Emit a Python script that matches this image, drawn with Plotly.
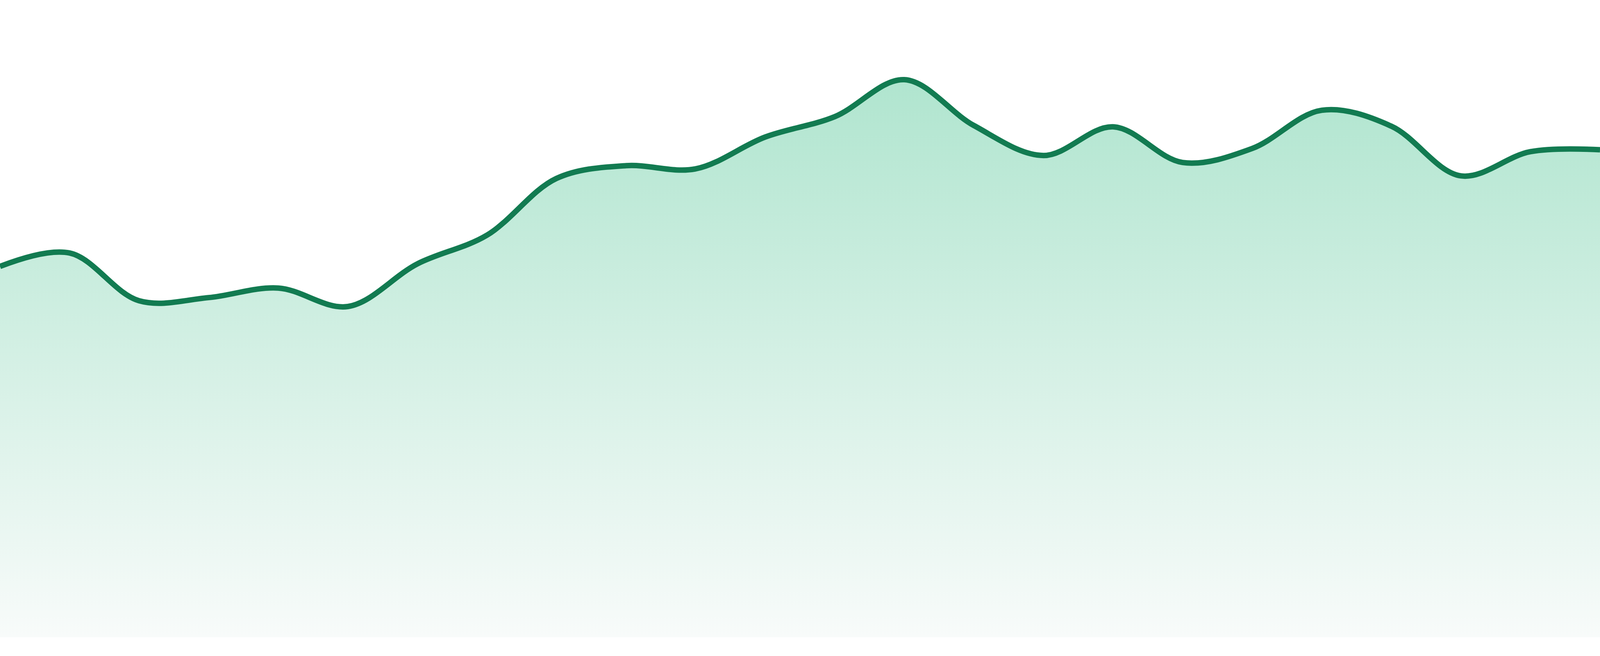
import plotly.graph_objects as go

# valeurs (24 points, echelle 0-100)
days = list(range(24))
values = [58.2, 60.3, 52.8, 53.3, 54.8, 51.9, 58.6, 63.1, 72.0, 74.0, 73.5, 78.5,
          81.7, 87.5, 80.3, 75.6, 80.1, 74.5, 76.7, 82.7, 80.2, 72.4, 76.2, 76.5]

line_color = "#127b51"
fill_bottom = "#f8fbfa"
fill_top = "#b0e5cf"

fig = go.Figure()
fig.add_trace(go.Scatter(
    x=days, y=values,
    mode="lines",
    line=dict(color=line_color, width=14, shape="spline", smoothing=1.0),
    fill="tozeroy",
    fillgradient=dict(type="vertical", start=0, stop=max(values),
                      colorscale=[[0, fill_bottom], [1, fill_top]]),
    hoverinfo="skip",
))

fig.update_layout(
    width=4800, height=1680,
    margin=dict(l=0, r=0, t=0, b=0, pad=0),
    paper_bgcolor="white", plot_bgcolor="white",
    showlegend=False,
    hovermode=False,
    xaxis=dict(visible=False, range=[0, len(days) - 1]),
    yaxis=dict(visible=False, range=[0, 100], domain=[48 / 1680, 1]),
)

# pas de marge autour du graphique, taille = fenetre
post = ("document.body.style.margin='0';document.body.style.overflow='hidden';"
        "var gd=document.getElementById('{plot_id}');"
        "Plotly.relayout(gd,{width:window.innerWidth,height:window.innerHeight});")

fig.write_html("out.html", post_script=post,
               config={"displayModeBar": False, "staticPlot": True})
